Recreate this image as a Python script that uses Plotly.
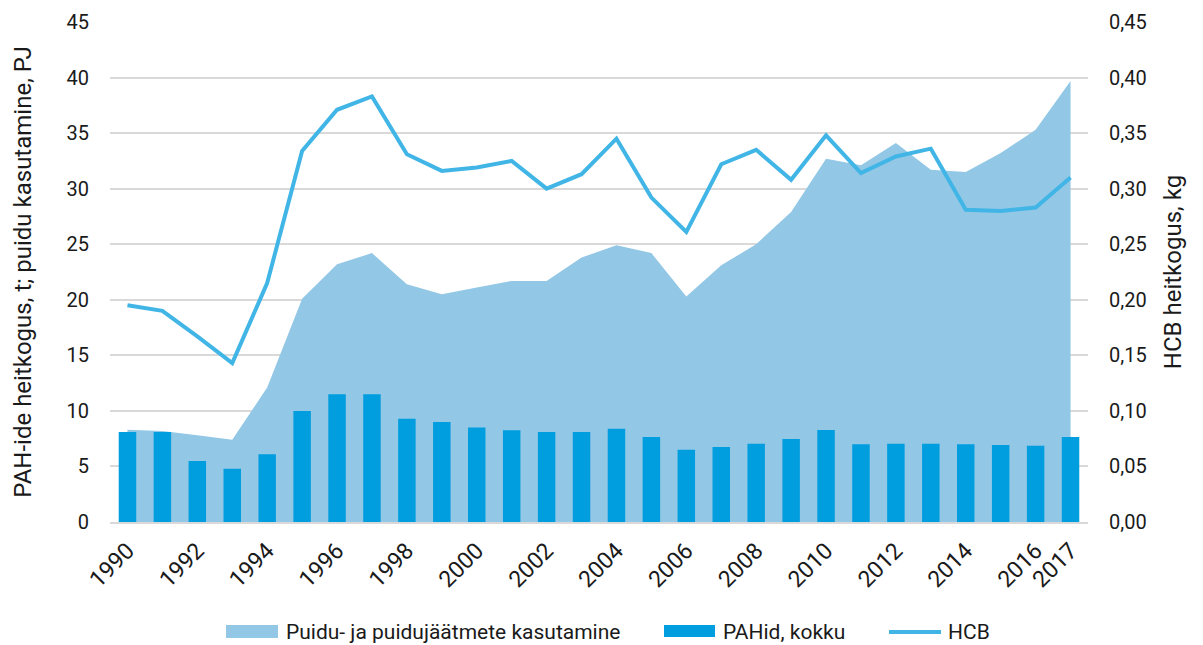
import plotly.graph_objects as go

years = list(range(1990, 2018))
puit = [8.3, 8.2, 7.8, 7.4, 12.1, 20.1, 23.2, 24.2, 21.4, 20.5, 21.1, 21.7, 21.7, 23.8, 24.9, 24.2,
        20.3, 23.1, 25.0, 27.9, 32.7, 32.1, 34.1, 31.7, 31.5, 33.2, 35.3, 39.7]
pah = [8.1, 8.1, 5.5, 4.8, 6.1, 10.0, 11.5, 11.5, 9.3, 9.0, 8.5, 8.25, 8.1, 8.1, 8.4, 7.65,
       6.5, 6.75, 7.05, 7.47, 8.28, 7.0, 7.05, 7.05, 7.0, 6.93, 6.87, 7.65]
hcb = [0.195, 0.190, 0.167, 0.143, 0.215, 0.334, 0.371, 0.383, 0.331, 0.316, 0.319, 0.325, 0.300,
       0.313, 0.345, 0.292, 0.261, 0.322, 0.335, 0.308, 0.348, 0.314, 0.329, 0.336, 0.281, 0.280,
       0.283, 0.310]
tick_years = [1990, 1992, 1994, 1996, 1998, 2000, 2002, 2004, 2006, 2008, 2010, 2012, 2014, 2016, 2017]
left_ticks = [0, 5, 10, 15, 20, 25, 30, 35, 40, 45]
right_ticks = [0, 0.05, 0.10, 0.15, 0.20, 0.25, 0.30, 0.35, 0.40, 0.45]
names = ["Puidu- ja puidujäätmete kasutamine", "PAHid, kokku", "HCB"]

C_AREA = "rgb(146,199,230)"
C_BAR = "rgb(0,157,223)"
C_LINE = "rgb(65,182,230)"
FONT = "Roboto, sans-serif"
TXT = "#1a1a1a"

# page body has an 8px margin: the figure starts at (8, 8) on the page
OFF = 8
W, H = 1203 - OFF, 645 - OFF
L, R, T, B = 110 - OFF, 115, 22 - OFF, 123
PW, PH = W - L - R, H - T - B


def px(x):  # page pixel -> paper x
    return (x - OFF - L) / PW


def py(y):  # page pixel -> paper y
    return (H - B - (y - OFF)) / PH


fig = go.Figure()
fig.add_trace(go.Scatter(x=years, y=puit, mode="none", fill="tozeroy",
                         fillcolor=C_AREA, name=names[0]))
fig.add_trace(go.Bar(x=years, y=pah, marker_color=C_BAR, marker_line_width=0,
                     name=names[1], yaxis="y2"))
fig.add_trace(go.Scatter(x=years, y=hcb, mode="lines", yaxis="y3",
                         line=dict(color=C_LINE, width=4), name=names[2]))

# manual legend
shapes = [
    dict(type="rect", xref="paper", yref="paper", x0=px(226), x1=px(278), y0=py(638), y1=py(625),
         fillcolor=C_AREA, line_width=0),
    dict(type="rect", xref="paper", yref="paper", x0=px(664), x1=px(715), y0=py(637), y1=py(625),
         fillcolor=C_BAR, line_width=0),
    dict(type="line", xref="paper", yref="paper", x0=px(889), x1=px(941), y0=py(632), y1=py(632),
         line=dict(color=C_LINE, width=4)),
]
annotations = []
for xpos, name in zip([284, 721, 946], names):
    annotations.append(dict(xref="paper", yref="paper", x=px(xpos), y=py(632), text=name,
                            showarrow=False, xanchor="left", yanchor="middle",
                            font=dict(size=21, color=TXT, family=FONT)))

fig.update_layout(
    width=W, height=H,
    margin=dict(l=L, r=R, t=T, b=B),
    paper_bgcolor="white", plot_bgcolor="white",
    separators=", ",
    bargap=0.5,
    showlegend=False,
    font=dict(family=FONT, size=20, color=TXT),
    shapes=shapes, annotations=annotations,
    xaxis=dict(range=[1989.5, 2017.5], tickmode="array", tickvals=tick_years,
               ticktext=[str(y) for y in tick_years], tickangle=-45, automargin=False,
               showgrid=False, showline=True, linecolor="#d9d9d9", linewidth=2,
               ticks="", tickfont=dict(size=23), ticklabelstandoff=4),
    yaxis=dict(range=[0, 45], tickvals=left_ticks, showgrid=True, gridcolor="#d9d9d9",
               gridwidth=2, zeroline=False, ticks="", showline=False, ticklabelstandoff=20,
               automargin=False,
               title=dict(text="PAH-ide heitkogus, t; puidu kasutamine, PJ", font=dict(size=24), standoff=28),
               tickfont=dict(size=20)),
    yaxis2=dict(range=[0, 45], overlaying="y", side="left", visible=False, showgrid=False,
                automargin=False),
    yaxis3=dict(range=[0, 0.45], tickvals=right_ticks, tickformat=".2f", overlaying="y",
                side="right", showgrid=False, zeroline=False, ticks="", ticklabelstandoff=20,
                automargin=False,
                title=dict(text="HCB heitkogus, kg", font=dict(size=24), standoff=18),
                tickfont=dict(size=20)),
)

fig.write_html("out.html")
